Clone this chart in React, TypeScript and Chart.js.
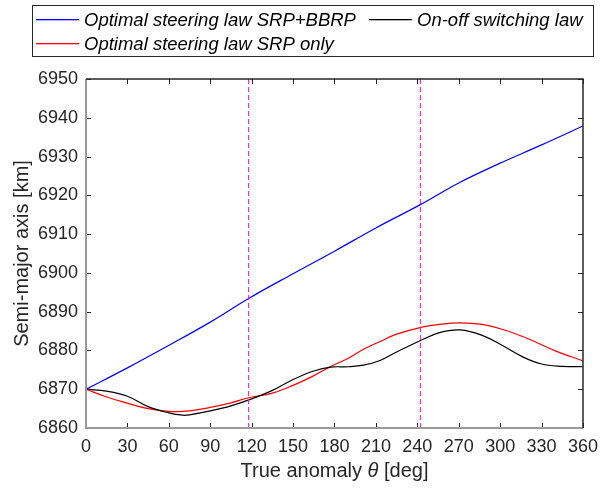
import { useEffect, useRef } from "react";
import { Chart, registerables } from "chart.js";

Chart.register(...registerables);

// True anomaly [deg] and semi-major axis [km]
const blueTheta = [0, 30, 60, 90, 117.8, 150, 180, 210, 242.2, 270, 300, 330, 360];
const blueSMA = [6870, 6875.5, 6881.3, 6887.3, 6893.4, 6899.8, 6905.6, 6911.6, 6917.6, 6923.2, 6928.3, 6933.0, 6937.9];

const redTheta = [0, 15, 30, 45, 60, 75, 90, 105, 118, 135, 150, 165, 177, 190, 201, 213, 225, 242, 256, 271, 287, 302, 321, 340, 360];
const redSMA = [6870, 6868, 6866.4, 6865.0, 6864.3, 6864.4, 6865.3, 6866.5, 6867.8, 6869.0, 6871.0, 6873.5, 6875.8, 6878.0, 6880.3, 6882.3, 6884.2, 6885.9, 6886.7, 6887.1, 6886.7, 6885.4, 6882.9, 6879.9, 6877.3];

const blackTheta = [0, 15, 30, 45, 60, 70, 75, 90, 105, 120, 135, 150, 165, 177, 190, 201, 213, 225, 242, 256, 271, 287, 302, 316, 330, 345, 360];
const blackSMA = [6870, 6869.5, 6868.2, 6865.5, 6863.9, 6863.3, 6863.4, 6864.4, 6865.7, 6867.5, 6869.7, 6872.5, 6874.7, 6875.7, 6875.8, 6876.2, 6877.4, 6879.6, 6882.5, 6884.6, 6885.3, 6883.9, 6881.2, 6878.4, 6876.5, 6875.9, 6875.8];

const markerTheta = [117.8, 242.2];

const xTicks = [0, 30, 60, 90, 120, 150, 180, 210, 240, 270, 300, 330, 360];
const yTicks = [6860, 6870, 6880, 6890, 6900, 6910, 6920, 6930, 6940, 6950];

const seriesLabels = ["Optimal steering law SRP+BBRP", "Optimal steering law SRP only", "On-off switching law"];
const seriesColors = ["#0000ff", "#ff0000", "#000000"];

const FONT = '"Liberation Sans", Arial, sans-serif';
const AXIS = "#262626";

const toPts = (xs: number[], ys: number[]) => xs.map((x, i) => ({ x, y: ys[i] }));

const framePlugin = {
  id: "frame",
  afterDraw(chart: any) {
    const { ctx, chartArea } = chart;
    const { left, right, top, bottom } = chartArea;
    const xs = chart.scales.x;
    const ys = chart.scales.y;
    ctx.save();
    // ticks (inward)
    ctx.strokeStyle = AXIS;
    ctx.lineWidth = 1;
    ctx.beginPath();
    xTicks.forEach((v) => {
      const px = Math.round(xs.getPixelForValue(v)) + 0.5;
      ctx.moveTo(px, bottom);
      ctx.lineTo(px, bottom - 5);
      ctx.moveTo(px, top);
      ctx.lineTo(px, top + 5);
    });
    yTicks.forEach((v) => {
      const py = Math.round(ys.getPixelForValue(v)) + 0.5;
      ctx.moveTo(left, py);
      ctx.lineTo(left + 5, py);
      ctx.moveTo(right, py);
      ctx.lineTo(right - 5, py);
    });
    ctx.stroke();
    // box
    ctx.strokeStyle = "#9a9a9a";
    ctx.lineWidth = 2;
    ctx.beginPath();
    ctx.moveTo(left, top);
    ctx.lineTo(left, bottom);
    ctx.lineTo(right, bottom);
    ctx.stroke();
    ctx.strokeStyle = AXIS;
    ctx.lineWidth = 1.5;
    ctx.beginPath();
    ctx.moveTo(left, top);
    ctx.lineTo(right, top);
    ctx.lineTo(right, bottom);
    ctx.stroke();

    // x title with italic theta
    ctx.fillStyle = AXIS;
    ctx.textBaseline = "middle";
    const p1 = "True anomaly ";
    const p2 = "\u03b8";
    const p3 = " [deg]";
    ctx.font = `20px ${FONT}`;
    const w1 = ctx.measureText(p1).width;
    const w3 = ctx.measureText(p3).width;
    ctx.font = `italic 20px ${FONT}`;
    const w2 = ctx.measureText(p2).width;
    const total = w1 + w2 + w3;
    let cx = (left + right) / 2 - total / 2;
    const ty = 471;
    ctx.textAlign = "left";
    ctx.font = `20px ${FONT}`;
    ctx.fillText(p1, cx, ty);
    cx += w1;
    ctx.font = `italic 20px ${FONT}`;
    ctx.fillText(p2, cx, ty);
    cx += w2;
    ctx.font = `20px ${FONT}`;
    ctx.fillText(p3, cx, ty);

    // y title
    ctx.save();
    ctx.translate(22, (top + bottom) / 2);
    ctx.rotate(-Math.PI / 2);
    ctx.textAlign = "center";
    ctx.font = `20px ${FONT}`;
    ctx.fillText("Semi-major axis [km]", 0, 0);
    ctx.restore();

    // legend box
    ctx.fillStyle = "#ffffff";
    ctx.fillRect(32, 5.5, 561, 51);
    ctx.strokeStyle = AXIS;
    ctx.lineWidth = 1;
    ctx.strokeRect(32.5, 5.5, 561, 51);
    const items = [
      { i: 0, x0: 36, x1: 79, tx: 84, y: 19 },
      { i: 2, x0: 369, x1: 412, tx: 417, y: 19 },
      { i: 1, x0: 36, x1: 79, tx: 84, y: 43 },
    ];
    ctx.font = `italic 18.5px ${FONT}`;
    ctx.textAlign = "left";
    ctx.textBaseline = "middle";
    items.forEach((it) => {
      ctx.fillStyle = seriesColors[it.i];
      ctx.fillRect(it.x0, it.y, it.x1 - it.x0, 1.3);
      ctx.fillStyle = "#000000";
      ctx.fillText(seriesLabels[it.i], it.tx, it.y + 1.5);
    });
    ctx.restore();
  },
};

export default function App() {
  const ref = useRef<HTMLCanvasElement | null>(null);
  useEffect(() => {
    document.body.style.margin = "0";
    const canvas = ref.current;
    if (!canvas) return;
    const markerSets = markerTheta.map((t) => ({
      label: "marker",
      data: [
        { x: t, y: yTicks[0] },
        { x: t, y: yTicks[yTicks.length - 1] },
      ],
      borderColor: "#ff00ff",
      borderWidth: 1,
      borderDash: [5, 3],
      pointRadius: 0,
      showLine: true,
    }));
    const line = (i: number, xs: number[], ys: number[]) => ({
      label: seriesLabels[i],
      data: toPts(xs, ys),
      borderColor: seriesColors[i],
      borderWidth: 1.2,
      pointRadius: 0,
      showLine: true,
      tension: 0.4,
    });
    const chart = new Chart(canvas, {
      type: "scatter",
      data: {
        datasets: [
          ...markerSets,
          line(2, blackTheta, blackSMA),
          line(1, redTheta, redSMA),
          line(0, blueTheta, blueSMA),
        ] as any,
      },
      options: {
        animation: false,
        responsive: false,
        maintainAspectRatio: false,
        layout: { padding: { top: 79, right: 18, left: 0, bottom: 0 } },
        plugins: { legend: { display: false }, tooltip: { enabled: false } },
        scales: {
          x: {
            type: "linear",
            min: 0,
            max: 360,
            afterBuildTicks: (s: any) => {
              s.ticks = xTicks.map((v) => ({ value: v }));
            },
            afterFit: (s: any) => {
              s.height = 63;
            },
            grid: { display: false, drawTicks: false },
            border: { display: false },
            ticks: {
              color: AXIS,
              font: { family: FONT, size: 18 },
              padding: 8,
              maxRotation: 0,
              autoSkip: false,
              callback: (v: any) => String(v),
            },
          },
          y: {
            type: "linear",
            min: 6860,
            max: 6950,
            afterBuildTicks: (s: any) => {
              s.ticks = yTicks.map((v) => ({ value: v }));
            },
            afterFit: (s: any) => {
              s.width = 86;
            },
            grid: { display: false, drawTicks: false },
            border: { display: false },
            ticks: {
              color: AXIS,
              font: { family: FONT, size: 18 },
              padding: 8,
              autoSkip: false,
              callback: (v: any) => String(v),
            },
          },
        },
      },
      plugins: [framePlugin],
    });
    return () => chart.destroy();
  }, []);
  return (
    <div style={{ width: 606, height: 491, background: "#fff" }}>
      <canvas ref={ref} width={606} height={491} style={{ display: "block", width: 606, height: 491 }} />
    </div>
  );
}
